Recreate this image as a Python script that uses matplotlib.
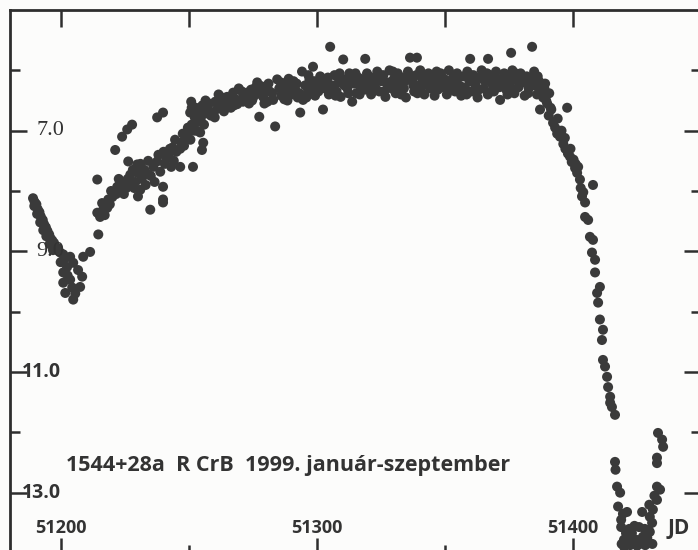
import numpy as np
import matplotlib
matplotlib.use('Agg')
import matplotlib.pyplot as plt
import matplotlib.transforms as mtransforms

# --- light curve data (JD, visual magnitude) ---
jd_dec = [51189.0, 51189.6, 51190.3, 51190.8, 51191.5, 51192.0, 51192.8, 51193.3, 51194.0, 51194.6,
          51195.3, 51195.8, 51196.5, 51197.2, 51197.8, 51189.5, 51190.6, 51191.8, 51193.0, 51194.2,
          51195.5, 51196.8]
mag_dec = [8.12, 8.18, 8.22, 8.30, 8.35, 8.42, 8.48, 8.55, 8.60, 8.66,
           8.72, 8.78, 8.82, 8.86, 8.92, 8.25, 8.38, 8.52, 8.65, 8.75,
           8.88, 8.98]

jd_low = [51198.8, 51199.6, 51200.8, 51201.4, 51203.5, 51202.3, 51204.7, 51200.8, 51206.6, 51208.2,
          51203.5, 51200.8, 51204.3, 51207.4, 51201.6, 51204.7, 51205.5, 51202.5, 51199.8]
mag_low = [8.95, 9.02, 9.05, 9.12, 9.09, 9.26, 9.19, 9.35, 9.31, 9.42,
           9.47, 9.52, 9.60, 9.59, 9.69, 9.80, 9.70, 9.40, 9.18]

jd_rise = [51208.6, 51211.3, 51214.5, 51214.1, 51214.1, 51215.2, 51216.4, 51217.0, 51218.4, 51219.0,
           51220.0, 51221.9, 51221.5, 51223.0, 51223.5, 51224.5, 51225.0, 51226.2, 51227.0, 51227.5,
           51228.5, 51229.7, 51230.0, 51230.9, 51230.0, 51231.5, 51232.5, 51233.0, 51234.8, 51235.0,
           51236.0, 51237.5, 51238.7, 51239.8, 51239.8, 51240.5, 51241.0, 51242.0, 51243.0, 51244.0,
           51245.0, 51246.5, 51247.0, 51248.0, 51249.0, 51250.0, 51250.5, 51252.0, 51253.0, 51254.3,
           51255.5, 51255.0, 51251.5, 51246.5, 51239.8, 51221.1, 51223.8, 51225.8, 51227.7, 51237.5,
           51239.8, 51218.0, 51226.0, 51233.8, 51243.5]
mag_rise = [9.09, 9.01, 8.72, 8.36, 7.81, 8.43, 8.31, 8.40, 8.14, 8.22,
            8.10, 7.93, 8.05, 7.85, 7.98, 8.05, 7.90, 7.51, 7.73, 7.85,
            7.95, 7.56, 7.70, 7.98, 8.09, 7.80, 7.65, 7.90, 8.31, 7.75,
            7.60, 7.51, 7.68, 7.93, 8.14, 7.55, 7.45, 7.40, 7.60, 7.50,
            7.35, 7.30, 7.20, 7.25, 7.10, 7.02, 7.15, 7.00, 7.00, 7.03,
            7.20, 7.32, 7.60, 7.60, 8.19, 7.32, 7.10, 6.98, 6.90, 6.78,
            6.70, 8.28, 7.80, 7.72, 7.28]
jd_rise2 = [51216.0, 51219.5, 51222.5, 51225.5, 51228.0, 51231.0, 51234.0, 51236.5, 51240.0, 51242.5,
            51244.5, 51247.5, 51249.5, 51251.0, 51253.5, 51255.8, 51229.0, 51238.0]
mag_rise2 = [8.20, 8.00, 7.80, 7.95, 7.65, 7.55, 7.50, 7.85, 7.35, 7.30,
             7.15, 7.05, 6.95, 6.90, 6.85, 6.90, 7.85, 7.40]

jd_p1 = [51250.4, 51251.0, 51252.2, 51253.1, 51254.0, 51255.2, 51256.0, 51257.0, 51257.8, 51258.5,
         51259.4, 51260.2, 51261.0, 51262.1, 51262.8, 51263.6, 51264.8, 51265.5, 51266.3, 51267.2,
         51268.0, 51268.8, 51269.9, 51270.6, 51271.5, 51272.7, 51273.4, 51274.2, 51275.0, 51276.0,
         51276.6, 51277.4, 51278.2, 51278.9, 51279.8, 51280.6, 51281.5, 51282.8, 51283.6, 51284.4]
mag_p1 = [6.70, 6.62, 6.78, 6.78, 6.66, 6.58, 6.72, 6.65, 6.55, 6.75,
          6.70, 6.52, 6.64, 6.60, 6.45, 6.68, 6.44, 6.55, 6.62, 6.37,
          6.48, 6.56, 6.49, 6.35, 6.42, 6.37, 6.55, 6.32, 6.45, 6.28,
          6.20, 6.77, 6.40, 6.44, 6.30, 6.52, 6.35, 6.49, 6.93, 6.15]
jd_p1b = [51250.8, 51252.6, 51254.5, 51256.4, 51258.0, 51260.0, 51261.5, 51263.0, 51264.2, 51266.0,
          51267.6, 51269.4, 51271.0, 51272.2, 51274.6, 51276.3, 51278.0, 51279.4, 51281.0, 51282.4]
mag_p1b = [6.52, 6.62, 6.82, 6.50, 6.68, 6.78, 6.40, 6.52, 6.60, 6.45,
           6.58, 6.30, 6.52, 6.44, 6.50, 6.38, 6.26, 6.55, 6.22, 6.38]

jd_p2 = [51285.2, 51286.0, 51286.8, 51287.6, 51288.4, 51289.2, 51290.0, 51290.8, 51291.6, 51292.4,
         51293.4, 51294.1, 51294.5, 51295.3, 51296.1, 51297.0, 51297.8, 51298.4, 51299.2, 51300.0,
         51301.2, 51302.3, 51303.0, 51303.8, 51304.6, 51305.1, 51306.0, 51306.8, 51307.6, 51308.4,
         51309.2, 51310.2, 51311.0, 51311.8, 51312.6, 51313.7, 51314.5, 51315.3, 51316.1, 51317.0]
mag_p2 = [6.30, 6.42, 6.22, 6.35, 6.50, 6.28, 6.40, 6.18, 6.33, 6.45,
          6.70, 6.02, 6.49, 6.25, 6.38, 6.15, 6.30, 5.94, 6.42, 6.22,
          6.10, 6.65, 6.30, 6.18, 6.40, 5.61, 6.25, 6.08, 6.35, 6.20,
          6.44, 5.82, 6.15, 6.30, 6.05, 6.52, 6.22, 6.38, 6.12, 6.28]
jd_p2b = [51285.8, 51287.2, 51288.9, 51290.4, 51292.0, 51293.0, 51295.8, 51296.6, 51298.9, 51300.5,
          51301.8, 51304.2, 51305.5, 51307.2, 51308.8, 51310.6, 51312.2, 51313.2, 51315.0, 51316.6]
mag_p2b = [6.20, 6.48, 6.14, 6.30, 6.22, 6.38, 6.45, 6.08, 6.18, 6.35,
           6.25, 6.12, 6.32, 6.42, 6.05, 6.25, 6.38, 6.18, 6.05, 6.40]

jd_p3 = [51317.8, 51318.6, 51318.8, 51319.5, 51320.3, 51321.1, 51321.9, 51322.7, 51323.5, 51324.3,
         51325.1, 51325.9, 51326.7, 51327.5, 51328.3, 51329.1, 51329.9, 51330.7, 51331.5, 51332.3,
         51333.1, 51333.9, 51334.7, 51335.5, 51336.3, 51337.1, 51337.9, 51338.7, 51339.0, 51339.5,
         51340.3, 51341.1, 51341.9, 51342.7, 51343.5, 51344.3, 51345.1, 51345.9, 51346.7, 51347.5]
mag_p3 = [6.15, 6.32, 5.81, 6.05, 6.22, 6.40, 6.12, 6.28, 6.02, 6.35,
          6.18, 6.08, 6.44, 6.25, 6.00, 6.30, 6.15, 6.38, 6.05, 6.22,
          6.12, 6.30, 6.45, 6.02, 5.79, 6.18, 6.35, 6.08, 5.79, 6.25,
          6.00, 6.15, 6.40, 6.22, 6.05, 6.30, 6.12, 6.42, 6.02, 6.20]
jd_p3b = [51318.2, 51320.0, 51321.6, 51323.0, 51324.8, 51326.2, 51328.0, 51329.6, 51331.0, 51332.8,
          51334.2, 51336.0, 51337.6, 51339.2, 51340.8, 51342.4, 51344.0, 51345.6, 51347.2, 51348.6]
mag_p3b = [6.25, 6.10, 6.30, 6.18, 6.08, 6.35, 6.20, 6.02, 6.28, 6.40,
           6.18, 6.10, 6.25, 6.38, 6.28, 6.08, 6.18, 6.25, 6.32, 6.10]

jd_p4 = [51348.3, 51349.1, 51349.9, 51350.7, 51351.5, 51352.3, 51353.1, 51353.9, 51354.7, 51355.5,
         51356.3, 51357.1, 51357.9, 51358.7, 51359.5, 51359.8, 51360.3, 51361.1, 51361.9, 51362.7,
         51363.5, 51364.3, 51365.1, 51365.9, 51366.7, 51366.8, 51367.5, 51368.3, 51369.1, 51369.9,
         51370.7, 51371.5, 51372.3, 51373.1, 51373.9, 51374.7, 51375.5, 51375.8, 51376.3, 51377.1,
         51377.9, 51378.7, 51379.5, 51380.3, 51381.1, 51381.9, 51382.7, 51383.5, 51384.0, 51384.3,
         51385.1, 51385.9, 51386.7, 51387.1, 51387.5, 51388.3, 51389.1, 51389.9, 51390.7, 51391.5]
mag_p4 = [6.05, 6.28, 6.15, 6.40, 6.00, 6.22, 6.12, 6.35, 6.05, 6.25,
          6.42, 6.10, 6.30, 6.02, 6.18, 5.81, 6.35, 6.08, 6.25, 6.45,
          6.12, 6.00, 6.30, 6.18, 6.40, 5.81, 6.08, 6.22, 6.35, 6.02,
          6.15, 6.49, 6.25, 6.05, 6.32, 6.12, 6.20, 5.71, 6.00, 6.38,
          6.15, 6.28, 6.05, 6.20, 6.42, 6.10, 6.30, 6.22, 5.61, 6.12,
          6.25, 6.40, 6.18, 6.65, 6.30, 6.45, 6.22, 6.55, 6.38, 6.65]
jd_p4b = [51350.0, 51351.8, 51353.4, 51355.0, 51356.8, 51358.4, 51360.0, 51361.6, 51363.2, 51364.8,
          51366.4, 51368.0, 51369.6, 51371.2, 51372.8, 51374.4, 51376.0, 51377.6, 51379.2, 51380.8,
          51382.4, 51384.8, 51386.2, 51388.8]
mag_p4b = [6.18, 6.32, 6.20, 6.12, 6.28, 6.40, 6.08, 6.20, 6.32, 6.15,
           6.05, 6.35, 6.18, 6.28, 6.12, 6.40, 6.30, 6.05, 6.22, 6.15,
           6.38, 6.02, 6.10, 6.30]

jd_fade = [51389.5, 51390.5, 51391.2, 51392.2, 51393.0, 51393.8, 51394.9, 51395.5, 51396.2, 51397.0,
           51397.7, 51398.0, 51398.8, 51399.5, 51400.2, 51400.8, 51401.6, 51402.0, 51402.7, 51403.0,
           51403.5, 51404.0, 51404.7, 51404.7, 51405.9, 51406.6, 51407.8, 51407.4, 51407.8, 51408.6,
           51408.6, 51409.4, 51409.8, 51410.5, 51410.5, 51411.3, 51411.7, 51411.7, 51412.5, 51413.3,
           51413.7, 51414.5, 51414.5, 51415.2, 51416.4, 51394.0, 51396.8, 51399.0, 51401.0]
mag_fade = [6.50, 6.75, 6.62, 6.87, 6.95, 7.05, 7.10, 7.00, 7.22, 7.30,
            6.62, 7.38, 7.43, 7.52, 7.48, 7.62, 7.70, 7.60, 7.81, 7.95,
            8.09, 8.02, 8.19, 8.43, 8.48, 8.76, 7.90, 9.02, 8.81, 9.14,
            9.35, 9.69, 9.85, 9.59, 10.13, 10.47, 10.30, 10.80, 10.91, 11.08,
            11.25, 11.41, 11.51, 11.58, 11.71, 6.80, 7.12, 7.30, 7.55]

jd_min = [51416.4, 51416.6, 51417.2, 51418.4, 51417.6, 51421.1, 51427.0, 51418.8, 51418.8, 51420.7,
          51419.9, 51423.0, 51424.6, 51425.8, 51427.3, 51430.9, 51431.2, 51432.8, 51434.0, 51432.8,
          51432.8, 51432.8, 51433.2, 51434.8, 51435.2, 51422.3, 51428.2, 51421.5, 51426.0, 51429.5,
          51430.0, 51419.0, 51420.0, 51421.0, 51422.0, 51423.8, 51424.0, 51425.0, 51426.5, 51428.0,
          51429.0, 51430.0, 51431.0, 51419.5, 51429.8, 51431.8]
mag_min = [12.49, 12.62, 12.90, 13.00, 13.23, 13.32, 13.32, 13.45, 13.57, 13.67,
           13.78, 13.67, 13.78, 13.57, 13.73, 13.50, 13.28, 13.12, 12.95, 12.90,
           12.51, 12.42, 12.01, 12.12, 12.24, 13.87, 13.87, 13.80, 13.85, 13.62,
           13.40, 13.85, 13.90, 13.75, 13.60, 13.85, 13.55, 13.88, 13.80, 13.60,
           13.75, 13.65, 13.85, 13.35, 13.20, 13.05]

ytick_labels = {7.0: '7.0', 9.0: '9.0', 11.0: '11.0', 13.0: '13.0'}
xtick_labels = {51200: '51200', 51300: '51300', 51400: '51400'}
title = '1544+28a  R CrB  1999. január-szeptember'

jd = np.concatenate([jd_dec, jd_low, jd_rise, jd_rise2, jd_p1, jd_p1b, jd_p2, jd_p2b,
                     jd_p3, jd_p3b, jd_p4, jd_p4b, jd_fade, jd_min])
mag = np.concatenate([mag_dec, mag_low, mag_rise, mag_rise2, mag_p1, mag_p1b, mag_p2, mag_p2b,
                      mag_p3, mag_p3b, mag_p4, mag_p4b, mag_fade, mag_min])

ink = '#3a3a3a'
fig = plt.figure(figsize=(6.98, 5.5), dpi=100)
fig.patch.set_facecolor('#fcfcfb')
# axes runs slightly past the bottom/right edge of the picture, like the scan
ax = fig.add_axes([10/698, -3/550, 691/698, 543/550])
ax.set_facecolor('#fcfcfb')

ax.scatter(jd, mag, s=52, color=ink, edgecolors='none', zorder=3)

ax.set_xlim(51180, 51450)
ax.set_ylim(14.0, 5.0)

for sp in ax.spines.values():
    sp.set_color('#2e2e2e')
    sp.set_linewidth(2.0)

# bottom: long ticks at the labelled days, short ones in between
ax.set_xticks([51200, 51300, 51400])
ax.set_xticks([51250, 51350], minor=True)
ax.set_yticks([7, 9, 11, 13])
ax.set_yticks([6, 8, 10, 12], minor=True)
ax.tick_params(axis='both', which='both', direction='in', colors='#2e2e2e',
               labelleft=False, labelbottom=False, right=True, width=1.8)
ax.tick_params(axis='x', which='major', length=11)
ax.tick_params(axis='x', which='minor', length=6)
ax.tick_params(axis='y', which='major', length=12)
ax.tick_params(axis='y', which='minor', length=7)

# top: every 50 days, all the same length
top = ax.secondary_xaxis('top')
top.set_xticks([51200, 51250, 51300, 51350, 51400])
top.tick_params(direction='in', length=12, width=1.8, colors='#2e2e2e', labeltop=False)
top.spines['top'].set_visible(False)

# y labels sit inside the frame
ty = mtransforms.blended_transform_factory(ax.transAxes, ax.transData)
for v, s in ytick_labels.items():
    if v < 10:
        ax.text(0.038, v, s, transform=ty, ha='left', va='center',
                family='Liberation Serif', fontsize=16, color='#333333')
    else:
        ax.text(0.017, v, s, transform=ty, ha='left', va='center',
                family='Open Sans', fontweight='bold', fontsize=14, color='#333333')

# x labels also inside, above the bottom ticks
tx = mtransforms.blended_transform_factory(ax.transData, ax.transAxes)
for v, s in xtick_labels.items():
    ax.text(v, 0.046, s, transform=tx, ha='center', va='center',
            family='Open Sans', fontweight='bold', fontsize=13, color='#333333')
ax.text(51441.5, 0.046, 'JD', transform=tx, ha='center', va='center',
        family='Open Sans', fontweight='bold', fontsize=15, color='#333333')

ax.text(51202, 12.55, title, ha='left', va='center',
        family='Open Sans', fontweight='bold', fontsize=15.5, color='#333333')

fig.savefig('out.png', dpi=100, facecolor=fig.get_facecolor())
